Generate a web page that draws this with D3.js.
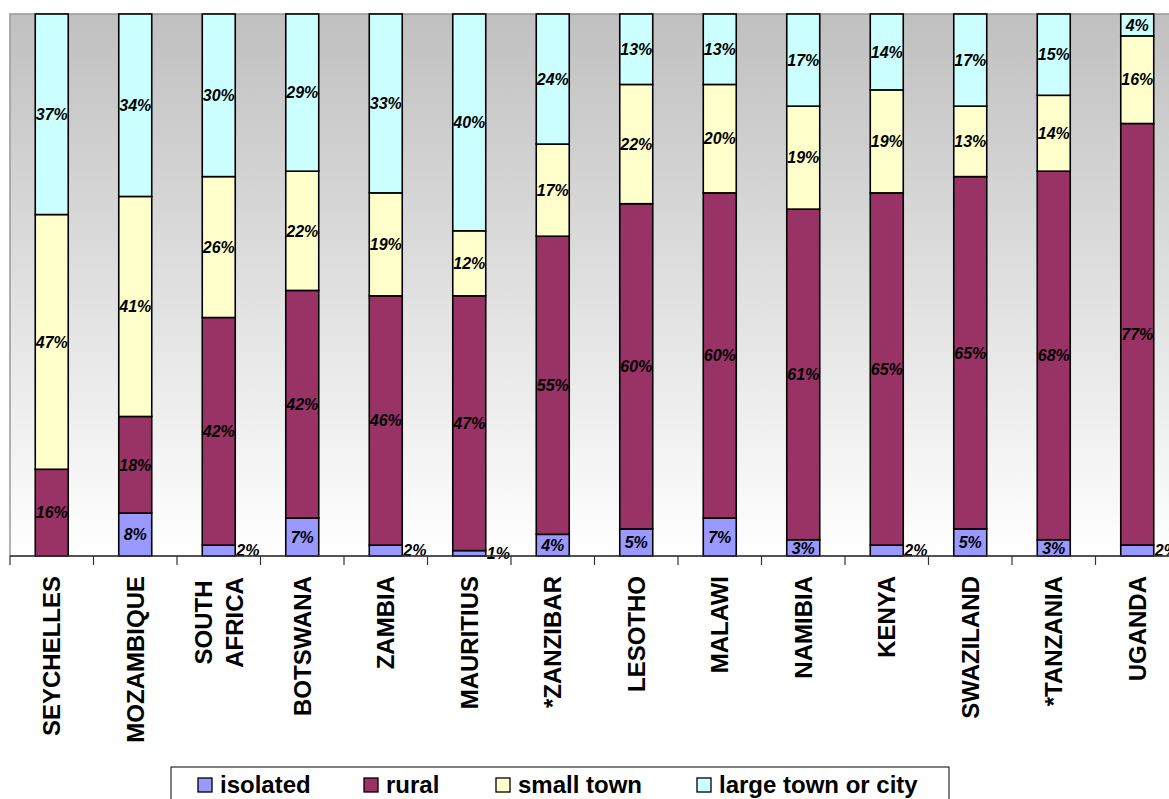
<!DOCTYPE html>
<html><head><meta charset="utf-8">
<script src="https://cdn.jsdelivr.net/npm/d3@7"></script>
<style>html,body{margin:0;padding:0;background:#fff;overflow:hidden}svg{display:block}</style>
</head><body>
<script>
const categories = ["SEYCHELLES","MOZAMBIQUE","SOUTH AFRICA","BOTSWANA","ZAMBIA","MAURITIUS","*ZANZIBAR","LESOTHO","MALAWI","NAMIBIA","KENYA","SWAZILAND","*TANZANIA","UGANDA"];
const seriesNames = ["isolated","rural","small town","large town or city"];
const isolated  = [0, 8, 2, 7, 2, 1, 4, 5, 7, 3, 2, 5, 3, 2];
const rural     = [16,18,42,42,46,47,55,60,60,61,65,65,68,77];
const smallTown = [47,41,26,22,19,12,17,22,20,19,19,13,14,16];
const largeTown = [37,34,30,29,33,40,24,13,13,17,14,17,15, 4];
const colors = ["#9999ff","#993366","#ffffcc","#ccffff"];

const W = 1169, H = 799;
const plotLeft = 10, plotTop = 14, plotBottom = 556, step = 83.5;
const plotRight = plotLeft + step * categories.length;

const svg = d3.select("body").append("svg").attr("width", W).attr("height", H);

const defs = svg.append("defs");
const grad = defs.append("linearGradient").attr("id","bg").attr("x1",0).attr("y1",0).attr("x2",0).attr("y2",1);
grad.append("stop").attr("offset","0%").attr("stop-color","#c0c0c0");
grad.append("stop").attr("offset","100%").attr("stop-color","#ffffff");

const table = categories.map((c,i)=>({cat:c, "isolated":isolated[i], "rural":rural[i], "small town":smallTown[i], "large town or city":largeTown[i]}));
const stacked = d3.stack().keys(seriesNames).offset(d3.stackOffsetExpand)(table);

const x = d3.scaleBand().domain(categories).range([plotLeft, plotRight]).paddingInner(0.605).paddingOuter(0.3025);
const xTick = d3.scaleBand().domain(categories).range([plotLeft, plotRight]);
const y = d3.scaleLinear().domain([0,1]).range([plotBottom, plotTop]);
const color = d3.scaleOrdinal().domain(seriesNames).range(colors);

// plot area
svg.append("rect").attr("x", plotLeft).attr("y", plotTop).attr("width", plotRight-plotLeft).attr("height", plotBottom-plotTop)
  .attr("fill","url(#bg)").attr("stroke","#999").attr("stroke-width",1.5);

// bars
const g = svg.append("g");
stacked.forEach((s) => {
  g.selectAll(null).data(s.filter(d=>d[1]-d[0]>0)).enter().append("rect")
    .attr("x", d => x(d.data.cat))
    .attr("y", d => y(d[1]))
    .attr("width", x.bandwidth())
    .attr("height", d => y(d[0]) - y(d[1]))
    .attr("fill", color(s.key))
    .attr("stroke", "#000").attr("stroke-width", 1.6);
});

// labels
stacked.forEach((s) => {
  g.selectAll(null).data(s.filter(d=>d.data[s.key]>0)).enter().append("text")
    .attr("x", d => d.data[s.key] <= 2 ? x(d.data.cat) + x.bandwidth() + 1 : x(d.data.cat) + x.bandwidth()/2)
    .attr("y", d => (y(d[0]) + y(d[1]))/2)
    .attr("dy", "0.36em")
    .attr("text-anchor", d => d.data[s.key] <= 2 ? "start" : "middle")
    .attr("font-family", "Liberation Sans, Arial, sans-serif")
    .attr("font-weight", "bold").attr("font-style", "italic").attr("font-size", 16)
    .attr("fill", "#000")
    .text(d => d.data[s.key] + "%");
});

// x axis
const ax = svg.append("g");
ax.append("line").attr("x1", plotLeft).attr("x2", plotRight).attr("y1", plotBottom).attr("y2", plotBottom)
  .attr("stroke","#333").attr("stroke-width",1.5);
const tickXs = categories.map(c => xTick(c)).concat([plotRight]);
ax.selectAll(null).data(tickXs).enter().append("line")
  .attr("x1", d=>d).attr("x2", d=>d).attr("y1", plotBottom).attr("y2", plotBottom+9)
  .attr("stroke","#333").attr("stroke-width",1.2);

// category labels
const labelTop = 576;
categories.forEach(c => {
  const words = c === "SOUTH AFRICA" ? ["SOUTH","AFRICA"] : [c];
  const cx = xTick(c) + xTick.bandwidth()/2;
  const lh = 31.5;
  const t = svg.append("text")
    .attr("transform", `translate(${cx},${labelTop}) rotate(-90)`)
    .attr("font-family", "Liberation Sans, Arial, sans-serif")
    .attr("font-weight", "bold").attr("font-size", 24).attr("fill","#000");
  if (words.length === 1) {
    t.attr("text-anchor","end").append("tspan").attr("x",0).attr("dy","0.36em").text(words[0]);
  } else {
    const blockW = 93;
    words.forEach((w,i) => {
      t.append("tspan").attr("text-anchor","middle")
        .attr("x", -blockW/2).attr("y", (i - (words.length-1)/2) * lh)
        .attr("dy","0.36em").text(w);
    });
  }
});

// legend
const lg = svg.append("g");
lg.append("rect").attr("x",171).attr("y",767).attr("width",778).attr("height",50)
  .attr("fill","#fff").attr("stroke","#000").attr("stroke-width",1);
const legendX = [198, 364, 496, 697];
seriesNames.forEach((n,i) => {
  lg.append("rect").attr("x", legendX[i]).attr("y", 778).attr("width", 14).attr("height", 14)
    .attr("fill", color(n)).attr("stroke","#000").attr("stroke-width",1.3);
  lg.append("text").attr("x", legendX[i] + 22).attr("y", 793)
    .attr("font-family", "Liberation Sans, Arial, sans-serif")
    .attr("font-weight","bold").attr("font-size",24).attr("fill","#000").text(n);
});
</script>
</body></html>
